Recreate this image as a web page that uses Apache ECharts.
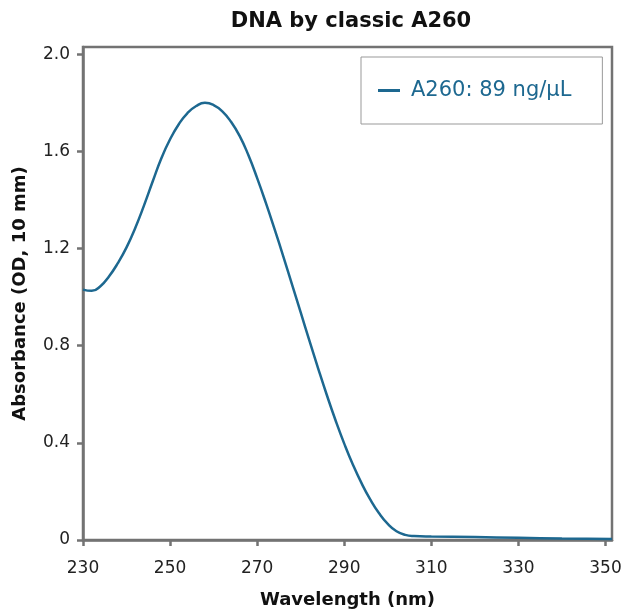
<!DOCTYPE html>
<html>
<head>
<meta charset="utf-8">
<script src="https://cdn.jsdelivr.net/npm/echarts@6/dist/echarts.min.js"></script>
<style>
  html, body { margin: 0; padding: 0; background: #fff; }
  #chart { width: 626px; height: 614px; }
</style>
</head>
<body>
<div id="chart"></div>
<script>
// 吸光度曲线数据
var wavelength = [230, 232, 234, 236, 238, 240, 242, 244, 246, 248, 250, 252, 254, 256, 258, 260,
  262, 264, 266, 268, 270, 272, 274, 276, 278, 280, 282, 284, 286, 288, 290, 292, 294, 296,
  298, 300, 302, 304, 306, 310, 320, 330, 340, 351.5];
var absorbance = [1.031, 1.026, 1.045, 1.086, 1.140, 1.205, 1.285, 1.377, 1.476, 1.572, 1.650,
  1.712, 1.758, 1.787, 1.800, 1.791, 1.765, 1.722, 1.663, 1.584, 1.490, 1.388, 1.280, 1.168,
  1.053, 0.937, 0.821, 0.707, 0.597, 0.493, 0.397, 0.310, 0.233, 0.166, 0.110, 0.066, 0.036,
  0.021, 0.016, 0.014, 0.012, 0.009, 0.006, 0.004];
var xTicks = [230, 250, 270, 290, 310, 330, 350];
var yTicks = [0, 0.4, 0.8, 1.2, 1.6, 2.0];
var seriesName = 'A260: 89 ng/µL';

(function () {
  var myChart = echarts.init(document.getElementById('chart'));
  var font = 'DejaVu Sans';
  var axisGray = '#737373';
  var lineColor = '#1d6890';

  var points = wavelength.map(function (w, i) {
    return [w, absorbance[i]];
  });

  var option = {
    animation: false,
    title: {
      text: 'DNA by classic A260',
      left: 346,
      textAlign: 'center',
      top: 6,
      textStyle: { fontFamily: font, fontSize: 21, fontWeight: 'bold', color: '#111' }
    },
    grid: {
      left: 83, right: 14, top: 47, bottom: 70,
      show: true, borderColor: axisGray, borderWidth: 2.5
    },
    legend: {
      data: [seriesName],
      left: 361, top: 57,
      padding: [23, 31, 23, 17],
      borderColor: '#999', borderWidth: 1,
      icon: 'rect', itemWidth: 22, itemHeight: 3,
      textStyle: { fontFamily: font, fontSize: 21, color: lineColor, padding: [0, 0, 0, 6] }
    },
    xAxis: {
      type: 'value',
      min: 230, max: 351.5,
      interval: 20,
      name: 'Wavelength (nm)',
      nameLocation: 'middle',
      nameGap: 51,
      nameTextStyle: { fontFamily: font, fontSize: 18, fontWeight: 'bold', color: '#111' },
      axisLine: { lineStyle: { color: axisGray, width: 2.5 } },
      axisTick: { show: true, length: 6, lineStyle: { color: axisGray, width: 2.5 }, customValues: xTicks },
      splitLine: { show: false },
      axisLabel: {
        fontFamily: font, fontSize: 17, color: '#222', margin: 20,
        customValues: xTicks
      }
    },
    yAxis: {
      type: 'value',
      min: 0, max: 2.03,
      interval: 0.4,
      name: 'Absorbance (OD, 10 mm)',
      nameLocation: 'middle',
      nameGap: 54,
      nameTextStyle: { fontFamily: font, fontSize: 18, fontWeight: 'bold', color: '#111' },
      axisLine: { show: true, lineStyle: { color: axisGray, width: 2.5 } },
      axisTick: { show: true, length: 6, lineStyle: { color: axisGray, width: 2.5 }, customValues: yTicks },
      splitLine: { show: false },
      axisLabel: {
        fontFamily: font, fontSize: 17, color: '#222', margin: 13,
        customValues: yTicks,
        formatter: function (v) { return v === 0 ? '0' : v.toFixed(1); }
      }
    },
    series: [{
      name: seriesName,
      type: 'line',
      data: points,
      smooth: true,
      showSymbol: false,
      symbol: 'none',
      lineStyle: { color: lineColor, width: 2.5 },
      itemStyle: { color: lineColor }
    }]
  };
  myChart.setOption(option);
})();
</script>
</body>
</html>
